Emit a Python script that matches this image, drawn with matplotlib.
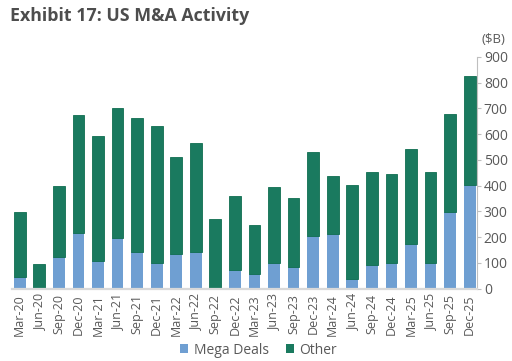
import numpy as np
import matplotlib
matplotlib.use("Agg")
import matplotlib.pyplot as plt
from matplotlib.patches import Patch

quarters = [
    "Mar-20", "Jun-20", "Sep-20", "Dec-20", "Mar-21", "Jun-21", "Sep-21", "Dec-21",
    "Mar-22", "Jun-22", "Sep-22", "Dec-22", "Mar-23", "Jun-23", "Sep-23", "Dec-23",
    "Mar-24", "Jun-24", "Sep-24", "Dec-24", "Mar-25", "Jun-25", "Sep-25", "Dec-25",
]
mega_deals = [46, 0, 123, 217, 107, 197, 143, 99, 135, 143, 3, 73, 55, 99, 83, 204,
              213, 37, 91, 99, 173, 99, 297, 403]
totals = [296, 96, 399, 673, 593, 700, 664, 631, 509, 567, 270, 359, 245, 395, 351, 530,
          435, 402, 453, 446, 541, 453, 677, 825]
other = [t - m for t, m in zip(totals, mega_deals)]

BLUE = "#6f9fd2"
GREEN = "#1a7a5f"
GRAY = "#595959"

plt.rcParams["font.family"] = ["Open Sans", "DejaVu Sans"]

fig = plt.figure(figsize=(5.12, 3.61), dpi=100)
ax = fig.add_axes([0.0244, 0.2008, 0.907, 0.642])

x = np.arange(len(quarters))
ax.bar(x, mega_deals, width=0.6, color=BLUE, edgecolor="none", zorder=2)
ax.bar(x, other, width=0.6, bottom=mega_deals, color=GREEN, edgecolor="#0f6e50",
       linewidth=0.6, zorder=2)

ax.set_xlim(-0.37, len(quarters) - 0.63)
ax.set_ylim(0, 900)
ax.set_yticks(np.arange(0, 901, 100))
ax.yaxis.tick_right()
ax.tick_params(axis="y", direction="out", length=3, color="#bfbfbf",
               labelsize=10, labelcolor=GRAY, pad=2)
ax.set_xticks(x)
ax.set_xticklabels(quarters, rotation=90)
ax.tick_params(axis="x", length=0, labelsize=9, labelcolor=GRAY, pad=4)

for side in ["top", "left"]:
    ax.spines[side].set_visible(False)
ax.spines["bottom"].set_color("#d9d9d9")
ax.spines["bottom"].set_linewidth(1.6)
ax.spines["right"].set_color("#bfbfbf")
ax.spines["right"].set_linewidth(0.8)

fig.text(0.02, 0.955, "Exhibit 17: US M&A Activity", fontsize=12.8,
         fontweight="bold", color="#4d4d4d", va="center", ha="left")
fig.text(0.987, 0.89, "($B)", fontsize=9.5, color=GRAY, ha="right", va="center")

handles = [Patch(facecolor=BLUE, edgecolor="none", label="Mega Deals"),
           Patch(facecolor=GREEN, edgecolor="none", label="Other")]
fig.legend(handles=handles, loc="center", bbox_to_anchor=(0.505, 0.03), ncol=2,
           frameon=False, fontsize=10, labelcolor=GRAY, handlelength=0.6,
           handleheight=0.6, handletextpad=0.4, columnspacing=1.2)

fig.savefig("out.png", dpi=100)
